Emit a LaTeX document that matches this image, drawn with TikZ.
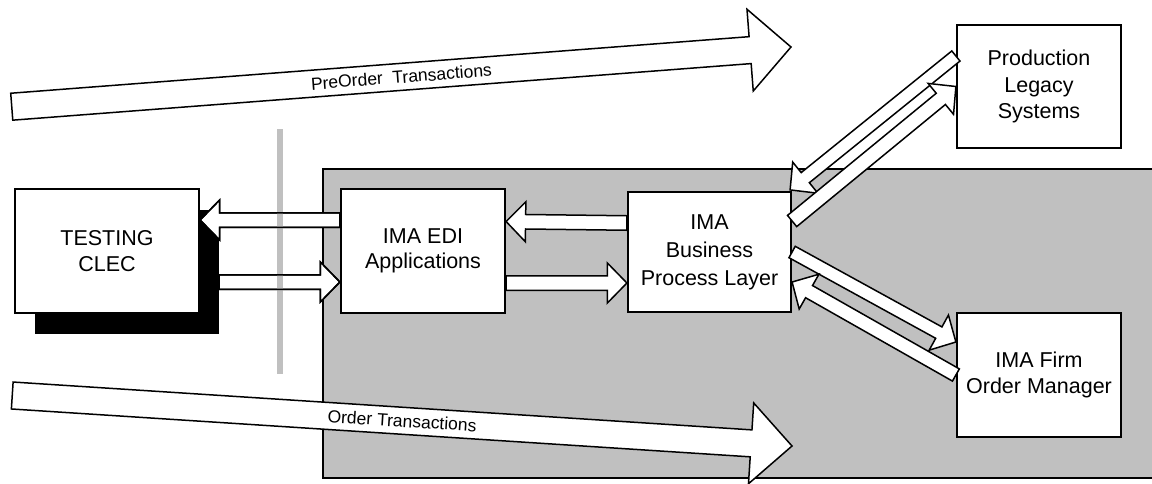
\documentclass[tikz,border=0pt]{standalone}
\usepackage{fontspec}
\setmainfont{Liberation Sans}
\usetikzlibrary{calc}
\definecolor{silverg}{RGB}{192,192,192}
\pgfdeclarelayer{back}
\pgfsetlayers{back,main}
% #1 options, #2 start, #3 tip, #4 shaft half width, #5 head half width, #6 head length
\newcommand\myblockarrow[6][]{%
  \coordinate (mba-h) at ($(#3)!#6!(#2)$);
  \path[blockarrow,#1] ($(#2)!#4!90:(#3)$) -- ($(mba-h)!#4!90:(#3)$) -- ($(mba-h)!#5!90:(#3)$) -- (#3) -- ($(mba-h)!#5!-90:(#3)$) -- ($(mba-h)!#4!-90:(#3)$) -- ($(#2)!#4!-90:(#3)$) -- cycle;
}
\begin{document}
\begin{tikzpicture}[x=1pt,y=-1pt,
  box/.style={draw=black, line width=2.2pt, fill=white, inner sep=0pt, align=center,
    font=\fontsize{21.5}{26.5}\selectfont, text=black},
  blockarrow/.style={draw=black, fill=white, line width=1.5pt, line join=miter, miter limit=10},
  lbl/.style={font=\fontsize{17.5}{20}\selectfont, inner sep=0pt, text=black}]

\useasboundingbox (0,0) rectangle (1152,483);

% boxes
\node[box, minimum width=184pt, minimum height=124pt] (clec) at (107,251) {TESTING\\CLEC};
\node[box, minimum width=164pt, minimum height=124pt, font=\fontsize{21.5}{25.5}\selectfont] (edi) at (423,251) {IMA EDI\\Applications};
\node[box, minimum width=163pt, minimum height=120pt, font=\fontsize{21.5}{28}\selectfont] (bpl) at (709.5,252) {IMA\\Business\\Process Layer};
\node[box, minimum width=164pt, minimum height=123pt] (prod) at (1039,86.5) {Production\\Legacy\\Systems};
\node[box, minimum width=164pt, minimum height=124pt] (firm) at (1039,375) {IMA Firm\\Order Manager};

\begin{pgfonlayer}{back}
  % grey area
  \fill[silverg] (323,169) rectangle (1152,478);
  \draw[line width=2pt] (1152,169) -- (323,169) -- (323,478) -- (1152,478);
  % shadow of the CLEC box
  \node[fill=black, inner sep=0pt, minimum width=184pt, minimum height=124pt] (clecsh) at ($(clec)+(20,21)$) {};
  % big transaction arrows
  \coordinate (preS) at (11.75,106.7);
  \coordinate (preE) at (791,47);
  \myblockarrow{preS}{preE}{13.5pt}{41pt}{41pt}
  \path (preS) -- (preE) node[lbl, pos=0.5, sloped] {PreOrder\ \ Transactions};
  \coordinate (ordS) at (12.25,395.5);
  \coordinate (ordE) at (792,446);
  \myblockarrow{ordS}{ordE}{13.5pt}{40.5pt}{41pt}
  \path (ordS) -- (ordE) node[lbl, pos=0.5, sloped] {Order Transactions};
  % horizontal arrows
  \coordinate (h1s) at ($(edi.west)+(0,-31)$);
  \coordinate (h1e) at (clec.east |- h1s);
  \myblockarrow{h1s}{h1e}{7.25pt}{20pt}{19.5pt}
  \coordinate (h2s) at ($(clecsh.east)+(0,10)$);
  \coordinate (h2e) at (edi.west |- h2s);
  \myblockarrow{h2s}{h2e}{7.25pt}{20pt}{19.5pt}
  \coordinate (h3s) at ($(bpl.west)+(0,-29)$);
  \coordinate (h3e) at ($(edi.east)+(0,-29.5)$);
  \myblockarrow{h3s}{h3e}{7.25pt}{20pt}{19.5pt}
  \coordinate (h4s) at ($(edi.east)+(0,32)$);
  \coordinate (h4e) at (bpl.west |- h4s);
  \myblockarrow{h4s}{h4e}{7.25pt}{20pt}{19.5pt}
  % grey divider
  \draw[silverg, line width=6pt] (280,129) -- (280,374);
  \myblockarrow[fill=none]{h1s}{h1e}{7.25pt}{20pt}{19.5pt}
  \myblockarrow[fill=none]{h2s}{h2e}{7.25pt}{20pt}{19.5pt}
\end{pgfonlayer}

% diagonal arrows
\coordinate (p1s) at ($(prod.west)+(0,-30.5)$);
\coordinate (p1e) at ($(bpl.north east)+(-2,-1)$);
\myblockarrow{p1s}{p1e}{6.5pt}{20pt}{19.5pt}
\coordinate (p2s) at ($(bpl.east)+(0,-31)$);
\coordinate (p2e) at (prod.west);
\myblockarrow{p2s}{p2e}{7.25pt}{20pt}{19.5pt}
\coordinate (f1s) at (bpl.east);
\coordinate (f1e) at ($(firm.west)+(0,-33)$);
\myblockarrow{f1s}{f1e}{6.5pt}{20pt}{19.5pt}
\coordinate (f2s) at (firm.west);
\coordinate (f2e) at ($(bpl.east)+(0,30)$);
\myblockarrow{f2s}{f2e}{7pt}{20pt}{19.5pt}
\end{tikzpicture}
\end{document}
